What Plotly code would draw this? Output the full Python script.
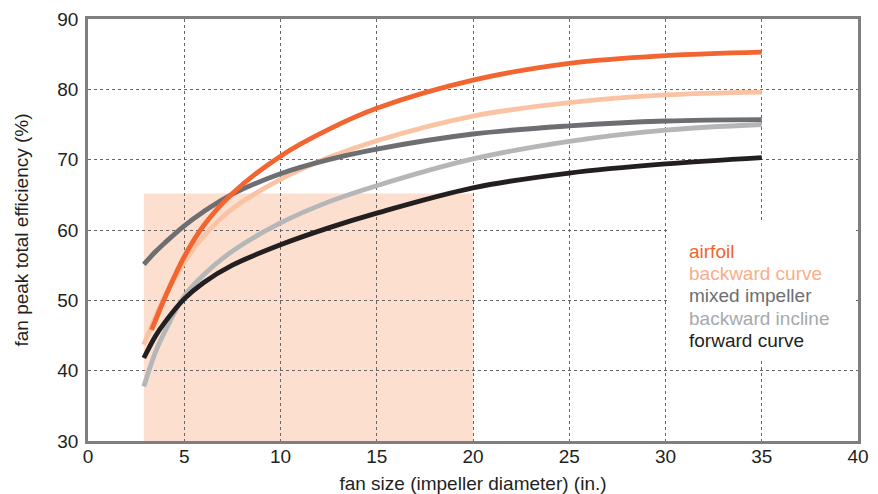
import plotly.graph_objects as go

x_common = [2.9, 3.5, 4, 5, 6, 7.5, 10, 12.5, 15, 20, 25, 30, 35]
x_airfoil = [3.3, 3.5, 4, 5, 6, 7.5, 10, 12.5, 15, 20, 25, 30, 35]

airfoil = [45.8, 47.1, 50.4, 56.2, 60.6, 65.2, 70.5, 74.3, 77.3, 81.3, 83.7, 84.8, 85.3]
backward_curve = [43.7, 47.6, 50.6, 55.4, 59.1, 63.0, 67.2, 70.3, 72.7, 76.2, 78.1, 79.2, 79.6]
mixed_impeller = [55.1, 56.9, 58.2, 60.6, 62.6, 65.1, 68.0, 70.0, 71.5, 73.65, 74.8, 75.5, 75.7]
backward_incline = [37.75, 42.6, 45.6, 50.6, 53.6, 57.0, 61.0, 64.0, 66.3, 70.1, 72.6, 74.2, 75.0]
forward_curve = [41.8, 44.9, 46.9, 50.2, 52.5, 55.0, 57.9, 60.3, 62.4, 66.0, 68.1, 69.4, 70.3]

series_names = ["airfoil", "backward curve", "mixed impeller", "backward incline", "forward curve"]
line_colors = ["#F26430", "#FAC3A4", "#6D6E71", "#B5B6B8", "#231F20"]
text_colors = ["#F26430", "#F8AE8A", "#6D6E71", "#A7A9AC", "#231F20"]

shade_x = [2.9, 20]
shade_y = [30, 65.2]

x_ticks = [0, 5, 10, 15, 20, 25, 30, 35, 40]
y_ticks = [30, 40, 50, 60, 70, 80, 90]

FONT = "Liberation Sans, Arial, Helvetica, sans-serif"

fig = go.Figure()

data = [
    (x_airfoil, airfoil),
    (x_common, backward_curve),
    (x_common, mixed_impeller),
    (x_common, backward_incline),
    (x_common, forward_curve),
]
order = [3, 1, 2, 4, 0]
for i in order:
    xs, ys = data[i]
    fig.add_trace(go.Scatter(
        x=xs, y=ys, mode="lines", name=series_names[i],
        line=dict(color=line_colors[i], width=4.8, shape="spline", smoothing=1.0),
        showlegend=False, hoverinfo="skip",
    ))

fig.add_shape(type="rect", x0=shade_x[0], x1=shade_x[1], y0=shade_y[0], y1=shade_y[1],
              xref="x", yref="y", fillcolor="#FCDFCF", line=dict(width=0), layer="below")
fig.add_shape(type="rect", x0=30.1, x1=39.8, y0=41.6, y1=61.2,
              xref="x", yref="y", fillcolor="white", line=dict(width=0), layer="between")

legend_y = [56.95, 53.87, 50.65, 47.37, 44.28]
for name, col, yy in zip(series_names, text_colors, legend_y):
    fig.add_annotation(x=31.2, y=yy, xref="x", yref="y", text=name, showarrow=False,
                       xanchor="left", yanchor="middle", xshift=-2,
                       font=dict(family=FONT, size=19, color=col))

axis_common = dict(
    showline=True, linecolor="#7F7F7F", linewidth=2.5, mirror=True,
    showgrid=True, gridcolor="#666666", gridwidth=1, griddash="dot",
    zeroline=False, ticks="", automargin=False,
    tickfont=dict(family=FONT, size=19, color="#231F20"),
)

fig.update_xaxes(range=[0, 40], tickvals=x_ticks, ticklabelstandoff=-4, **axis_common,
                 title=dict(text="fan size (impeller diameter) (in.)", standoff=23,
                            font=dict(family=FONT, size=19, color="#231F20")))
fig.update_yaxes(range=[30, 90], tickvals=y_ticks, ticklabelstandoff=3, **axis_common,
                 title=dict(text="fan peak total efficiency (%)", standoff=24,
                            font=dict(family=FONT, size=19, color="#231F20")))

fig.update_layout(
    width=870, height=486,
    margin=dict(l=80, r=20, t=11, b=53),
    plot_bgcolor="white", paper_bgcolor="white",
)

fig.write_html("out.html")
